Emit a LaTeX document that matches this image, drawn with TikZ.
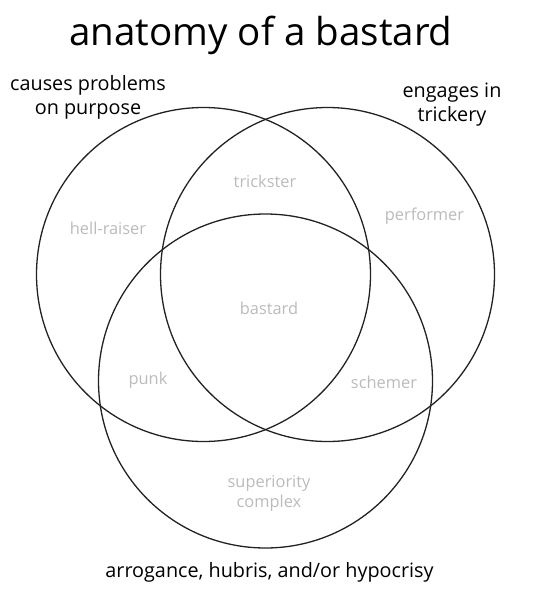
\documentclass[tikz,border=0pt]{standalone}
\usepackage{fontspec}
\setmainfont{Open Sans}
\usetikzlibrary{positioning}
\definecolor{RingLine}{HTML}{222222}
\definecolor{ZoneText}{HTML}{BBBBBB}

\begin{document}
\begin{tikzpicture}[
    x=1pt, y=-1pt,
    ring/.style={draw=RingLine, line width=1.3pt},
    heading/.style={font=\fontsize{38.5}{44}\selectfont, anchor=base},
    setlabel/.style={font=\fontsize{19.8}{24}\selectfont, align=center,
        anchor=base},
    zone/.style={font=\fontsize{16.4}{20}\selectfont, text=ZoneText,
        align=center}
]
\useasboundingbox (0,0) rectangle (540,595);

% ===================================================================
% CIRCLES
% ===================================================================
\coordinate (mischief) at (203.5,274.5);
\coordinate (trickery) at (327.5,274.5);
\coordinate (arrogance) at (265.5,381);

\draw[ring] (mischief) circle (167);
\draw[ring] (trickery) circle (167);
\draw[ring] (arrogance) circle (167);

% ===================================================================
% TITLE AND SET LABELS
% ===================================================================
\node[heading] (title) at (261,45) {anatomy of a bastard};

\node[setlabel] (causes) at (88,114) {causes problems\\on purpose};
\node[setlabel] (engages) at (452,121) {engages in\\trickery};
\node[setlabel] (hubris) at (269.5,577)
    {arrogance, hubris, and/or hypocrisy};

% ===================================================================
% REGIONS
% ===================================================================
\node[zone] (hellraiser) at (108,228) {hell-raiser};
\node[zone] (trickster) at (265,181) {trickster};
\node[zone] (performer) at (424.5,216) {performer};
\node[zone] (bastard) at (269,308) {bastard};
\node[zone] (punk) at (148,380) {punk};
\node[zone] (schemer) at (384,382) {schemer};
\node[zone] (superiority) at (269,493) {superiority\\complex};

\end{tikzpicture}
\end{document}
